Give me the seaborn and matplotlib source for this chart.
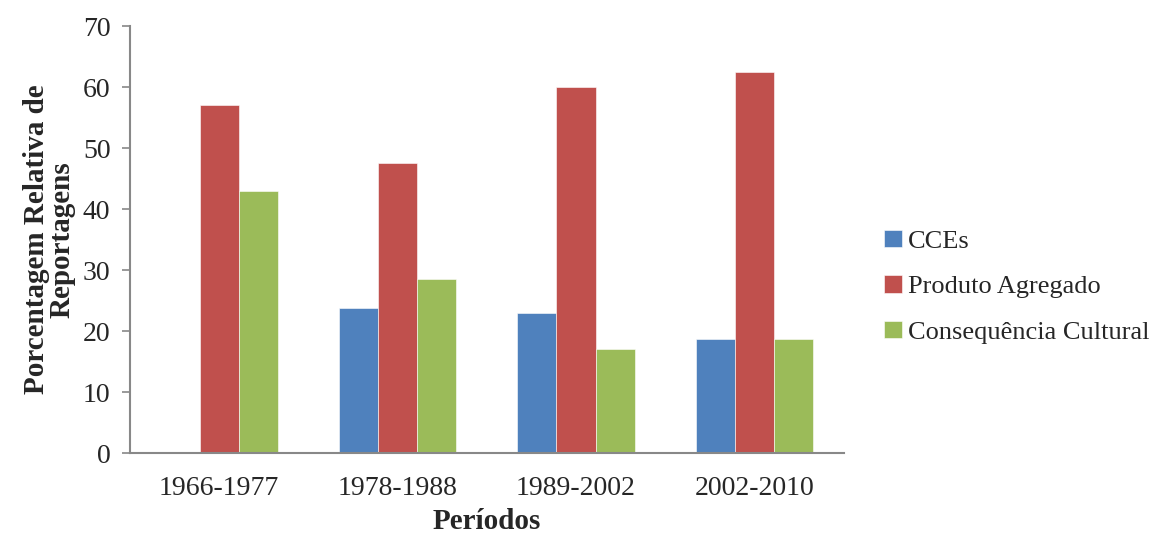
import matplotlib
matplotlib.use("Agg")
import matplotlib.pyplot as plt
import pandas as pd
import seaborn as sns

periods = ["1966-1977", "1978-1988", "1989-2002", "2002-2010"]
series = ["CCEs", "Produto Agregado", "Consequência Cultural"]
cces = [0.0, 23.8, 22.9, 18.75]
produto = [57.1, 47.6, 60.0, 62.5]
consequencia = [42.9, 28.6, 17.1, 18.75]
colors = ["#4F81BD", "#C0504D", "#9BBB59"]

df = pd.DataFrame({
    "periodo": periods * 3,
    "serie": [s for s in series for _ in periods],
    "valor": cces + produto + consequencia,
})

sns.set_style("white")
plt.rcParams["font.family"] = ["Liberation Serif", "DejaVu Serif"]

fig = plt.figure(figsize=(11.53, 5.35), dpi=100)
ax = fig.add_axes([0.1127, 0.153, 0.619, 0.798])

sns.barplot(data=df, x="periodo", y="valor", hue="serie", palette=colors,
            width=0.66, edgecolor="white", linewidth=0.4, ax=ax, saturation=1)

ax.set_ylim(0, 70)
ax.set_yticks(range(0, 71, 10))
ax.set_xlim(-0.5, 3.5)
ax.tick_params(axis="y", labelsize=20, left=True, length=6, width=1.2, color="#888888", pad=8)
ax.tick_params(axis="x", labelsize=20, bottom=False, pad=13)
for side in ["top", "right"]:
    ax.spines[side].set_visible(False)
for side in ["left", "bottom"]:
    ax.spines[side].set_color("#888888")
    ax.spines[side].set_linewidth(1.5)

ax.set_xlabel("Períodos", fontsize=21, fontweight="bold", labelpad=5)
ax.set_ylabel("Porcentagem Relativa de\nReportagens", fontsize=21, fontweight="bold",
              labelpad=5, linespacing=0.95)

ax.legend(loc="center left", bbox_to_anchor=(1.035, 0.39), frameon=False, fontsize=19,
          handlelength=0.65, handleheight=0.65, handletextpad=0.25, labelspacing=0.85,
          borderaxespad=0.2)

fig.savefig("out.png", dpi=100)
